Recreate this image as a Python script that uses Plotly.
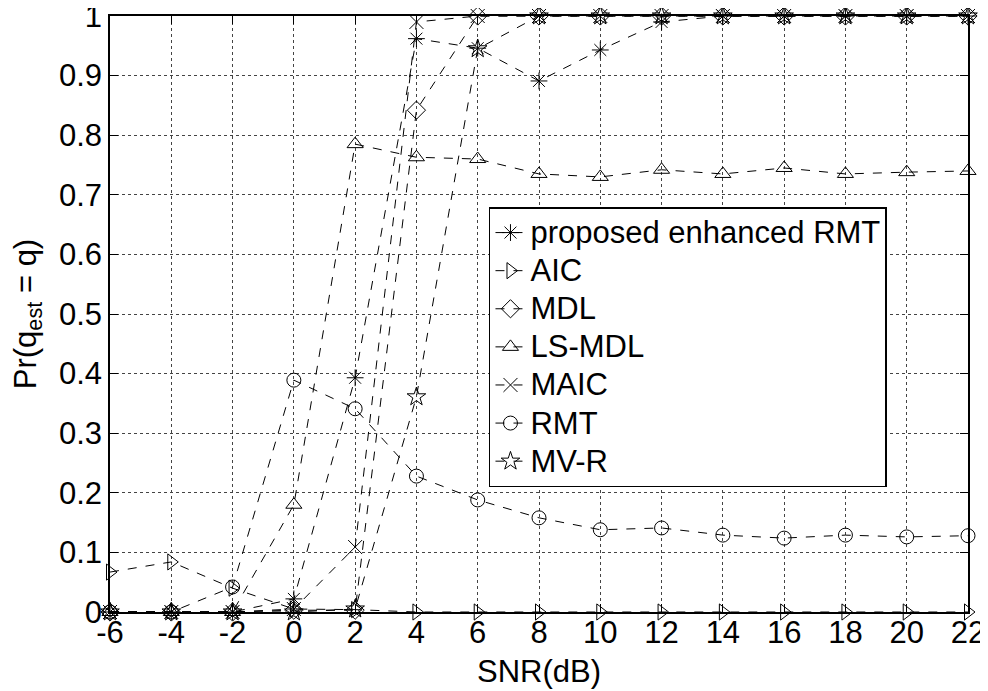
import plotly.graph_objects as go

snr = [-6, -4, -2, 0, 2, 4, 6, 8, 10, 12, 14, 16, 18, 20, 22]
snr_labels = ["-6", "-4", "-2", "0", "2", "4", "6", "8", "10", "12", "14", "16", "18", "20", "22"]
prob_ticks = [0, 0.1, 0.2, 0.3, 0.4, 0.5, 0.6, 0.7, 0.8, 0.9, 1]
prob_labels = ["0", "0.1", "0.2", "0.3", "0.4", "0.5", "0.6", "0.7", "0.8", "0.9", "1"]

proposed = [0, 0, 0, 0.022, 0.393, 0.962, 0.946, 0.891, 0.943, 0.99, 1, 1, 1, 1, 1]
aic = [0.067, 0.084, 0.04, 0.005, 0.004, 0, 0, 0, 0, 0, 0, 0, 0, 0, 0]
mdl = [0, 0, 0, 0.003, 0.003, 0.842, 1, 1, 1, 1, 1, 1, 1, 1, 1]
ls_mdl = [0, 0, 0, 0.18, 0.785, 0.763, 0.76, 0.735, 0.73, 0.742, 0.735, 0.745, 0.735, 0.738, 0.74]
maic = [0, 0, 0, 0.005, 0.109, 0.99, 1, 1, 1, 1, 1, 1, 1, 1, 1]
rmt = [0, 0, 0.042, 0.389, 0.341, 0.228, 0.188, 0.158, 0.138, 0.141, 0.129, 0.124, 0.129, 0.126, 0.128]
mv_r = [0, 0, 0, 0, 0.005, 0.361, 0.945, 1, 1, 1, 1, 1, 1, 1, 1]

series = [
    ("proposed enhanced RMT", proposed, "asterisk-open"),
    ("AIC", aic, "triangle-right-open"),
    ("MDL", mdl, "diamond-open"),
    ("LS-MDL", ls_mdl, "triangle-up-open"),
    ("MAIC", maic, "x-thin-open"),
    ("RMT", rmt, "circle-open"),
    ("MV-R", mv_r, "star-open"),
]

FONT = "Liberation Sans, Arial, sans-serif"
FS = 31

fig = go.Figure()
for name, vals, sym in series:
    fig.add_trace(go.Scatter(
        x=snr, y=vals, name='<span style="font-size:31px">' + name + '</span>',
        mode="lines+markers",
        line=dict(color="black", width=1, dash="dash"),
        marker=dict(symbol=sym, size=14, color="black",
                    line=dict(color="black", width=1)),
        cliponaxis=False,
    ))

axis_common = dict(
    showline=True, linecolor="black", linewidth=1.5, mirror="allticks",
    ticks="inside", ticklen=8, tickcolor="black",
    showgrid=True, gridcolor="#444444", gridwidth=1, griddash="dot",
    zeroline=False, automargin=False, ticklabeloverflow="allow",
    tickfont=dict(family=FONT, size=FS, color="black"),
)

fig.update_xaxes(range=[-6, 22], tickmode="array", tickvals=snr, ticktext=snr_labels,
                 ticklabelstandoff=-8,
                 title=dict(text="SNR(dB)", font=dict(family=FONT, size=FS, color="black"), standoff=11),
                 **axis_common)
fig.update_yaxes(range=[0, 1], tickmode="array", tickvals=prob_ticks, ticktext=prob_labels,
                 title=dict(text="Pr(q<sub>est</sub> = q)", font=dict(family=FONT, size=FS, color="black"), standoff=20),
                 **axis_common)

# page body has an 8px margin, so the figure is 8px smaller and shifted
fig.update_layout(
    width=980, height=683,
    margin=dict(l=102, r=20, t=8, b=79),
    paper_bgcolor="white", plot_bgcolor="white",
    font=dict(family=FONT, color="black"),
    legend=dict(
        x=0.4417, y=0.6795, xanchor="left", yanchor="top",
        bgcolor="white", bordercolor="black", borderwidth=1.5,
        font=dict(family=FONT, size=27, color="black"),
        itemwidth=30, tracegroupgap=0,
    ),
    showlegend=True,
)

fig.write_html("out.html")
